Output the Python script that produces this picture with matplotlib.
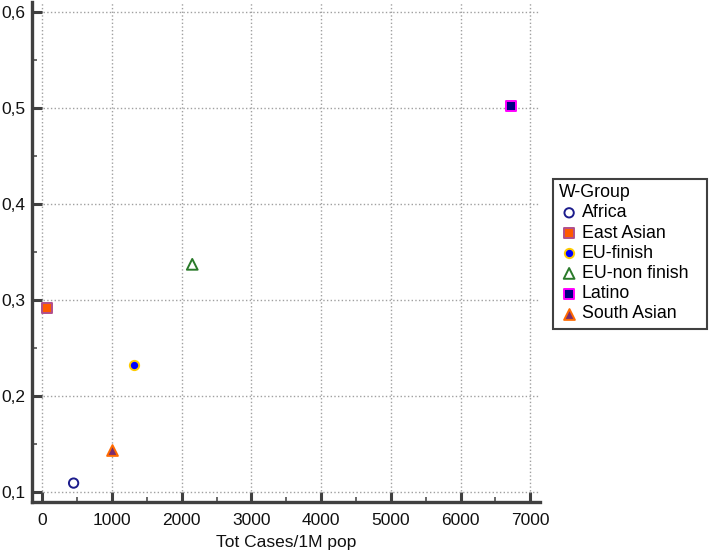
import matplotlib
matplotlib.use('Agg')
import matplotlib.pyplot as plt
from matplotlib.patches import Rectangle
from matplotlib.ticker import FuncFormatter, MultipleLocator

plt.rcParams['font.family'] = ['Liberation Sans', 'DejaVu Sans']

groups = ['Africa', 'East Asian', 'EU-finish', 'EU-non finish', 'Latino', 'South Asian']
tot_cases = [450, 66, 1311, 2152, 6720, 1000]
values = [0.109, 0.291, 0.232, 0.337, 0.502, 0.144]

markers = ['o', 's', 'o', '^', 's', '^']
faces = ['none', '#ff5a00', '#0000ff', 'none', '#000080', '#7b2d6e']
edges = ['#1c1c8c', '#b0508c', '#ffcc00', '#2a7a2a', '#ff00ff', '#ff6a00']
sizes = [45, 50, 45, 60, 50, 60]

fig = plt.figure(figsize=(7.09, 5.54), dpi=100)
ax = fig.add_axes([0.0458, 0.0944, 0.7158, 0.902])

for g, x, y, m, fc, ec, s in zip(groups, tot_cases, values, markers, faces, edges, sizes):
    ax.scatter([x], [y], marker=m, s=s, facecolors=fc, edgecolors=ec, linewidths=1.4,
               label=g, zorder=3)

ax.set_xlim(-140, 7140)
ax.set_ylim(0.0896, 0.6104)
ax.xaxis.set_major_locator(MultipleLocator(1000))
ax.xaxis.set_minor_locator(MultipleLocator(500))
ax.yaxis.set_major_locator(MultipleLocator(0.1))
ax.yaxis.set_minor_locator(MultipleLocator(0.05))
ax.yaxis.set_major_formatter(FuncFormatter(lambda v, p: f'{v:.1f}'.replace('.', ',')))
ax.xaxis.set_major_formatter(FuncFormatter(lambda v, p: f'{v:.0f}'))

ax.grid(True, which='major', color='#a0a0a0', linestyle=':', linewidth=1.0)
for side in ['top', 'right']:
    ax.spines[side].set_visible(False)
for side in ['left', 'bottom']:
    ax.spines[side].set_color('#404040')
    ax.spines[side].set_linewidth(2.4)

ax.tick_params(which='major', direction='in', length=7, width=2.2, color='#404040',
               labelsize=12.5, labelcolor='#111111')
ax.tick_params(axis='x', pad=8)
ax.tick_params(axis='y', pad=5)
ax.tick_params(which='minor', direction='in', length=3.5, width=1.1, color='#404040')

ax.set_xlabel('Tot Cases/1M pop', fontsize=12.5, color='#111111', labelpad=5)

# legend box drawn by hand so it can be a bit wider than the text
leg = ax.legend(title='W-Group', loc='upper left', bbox_to_anchor=(0.7814, 0.677),
                bbox_transform=fig.transFigure, borderaxespad=0, fontsize=12.8,
                title_fontsize=12.8, alignment='left', frameon=False,
                handletextpad=0.15, handlelength=1.1, labelspacing=0.18, borderpad=0.3)
fig.patches.append(Rectangle((0.7800, 0.4061), 0.2172, 0.2713, transform=fig.transFigure,
                             facecolor='none', edgecolor='#404040', linewidth=1.5))

fig.savefig('out.png', dpi=100)
